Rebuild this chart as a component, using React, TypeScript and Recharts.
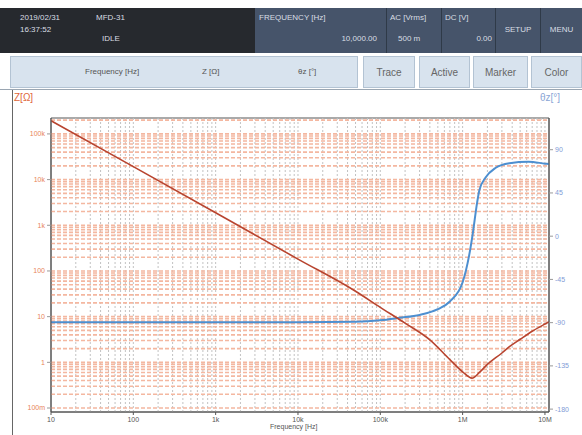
import { LineChart, Line, XAxis, YAxis, ReferenceLine, ReferenceArea } from 'recharts';

// impedance trace
const freqZ = [10, 100, 1000, 10000, 50000, 100000, 200000, 400000, 700000, 1e6, 1.3e6, 1.6e6, 2e6, 3e6, 3.7e6, 5e6, 7e6, 1e7, 1.12e7];
const impedance = [195000, 19200, 1880, 182, 36, 16, 7.2, 3.1, 1.15, 0.62, 0.45, 0.6, 0.9, 1.6, 2.2, 3.2, 4.8, 6.9, 7.7];

// phase trace
const freqPhase = [10, 100, 1000, 10000, 50000, 100000, 170000, 300000, 500000, 700000, 1e6, 1.2e6, 1.33e6, 1.5e6, 1.6e6, 1.9e6, 2.5e6, 3.7e6, 6.3e6, 1e7, 1.12e7];
const phase = [-89.6, -89.6, -89.6, -89.5, -89, -87.5, -85, -82, -76, -68, -48, -20, 3, 35, 48, 61, 71, 76, 77.5, 75.5, 75];

const freqTicks = [10, 100, 1000, 10000, 100000, 1e6, 1e7];
const zTicks = [0.1, 1, 10, 100, 1000, 10000, 100000];
const phaseTicks = [-180, -135, -90, -45, 0, 45, 90];
const steps = [1, 2, 3, 4, 5, 6, 7, 8, 9];

const X_DOMAIN: [number, number] = [10, 1.12e7];
const Z_DOMAIN: [number, number] = [0.0818, 223000];
const P_DOMAIN: [number, number] = [-183, 123];

const zData = freqZ.map((f, i) => ({ f, z: impedance[i] }));
const phaseData = freqPhase.map((f, i) => ({ f, p: phase[i] }));

const inRange = (v: number, d: [number, number]) => v > d[0] && v < d[1];
const minorX = freqTicks
  .flatMap((d) => steps.map((s) => s * d))
  .filter((v) => inRange(v, X_DOMAIN));
const minorZ = zTicks
  .flatMap((d) => steps.map((s) => s * d))
  .filter((v) => inRange(v, Z_DOMAIN));

const siLabel = (v: number) => {
  if (v >= 1e6) return `${v / 1e6}M`;
  if (v >= 1000) return `${v / 1000}k`;
  if (v < 1) return `${Math.round(v * 1000)}m`;
  return `${v}`;
};

const hdr: React.CSSProperties = {
  position: 'absolute',
  color: '#d9dee4',
  fontSize: 8,
  fontFamily: 'Liberation Sans, Arial, sans-serif',
  whiteSpace: 'nowrap',
};

const btn = (left: number, width: number, text: string) => (
  <div
    style={{
      position: 'absolute',
      left,
      top: 56,
      width,
      height: 32,
      background: '#d8e3ee',
      border: '1px solid #b3c3d3',
      boxSizing: 'border-box',
      display: 'flex',
      alignItems: 'center',
      justifyContent: 'center',
      fontSize: 10,
      color: '#666',
      fontFamily: 'Liberation Sans, Arial, sans-serif',
    }}
  >
    {text}
  </div>
);

export default function App() {
  return (
    <div
      style={{
        position: 'absolute',
        left: 0,
        top: 0,
        width: 582,
        height: 435,
        background: '#fff',
        overflow: 'hidden',
        fontFamily: 'Liberation Sans, Arial, sans-serif',
      }}
    >
      {/* status bar */}
      <div style={{ position: 'absolute', left: 0, top: 8, width: 255, height: 45, background: '#26292e' }} />
      <div style={{ position: 'absolute', left: 255, top: 8, width: 327, height: 45, background: '#46546a' }} />
      {[386, 441, 495, 540].map((x) => (
        <div key={x} style={{ position: 'absolute', left: x, top: 8, width: 1, height: 45, background: '#2f3a48' }} />
      ))}
      <div style={{ ...hdr, left: 20, top: 13 }}>2019/02/31</div>
      <div style={{ ...hdr, left: 20, top: 25 }}>16:37:52</div>
      <div style={{ ...hdr, left: 96, top: 13 }}>MFD-31</div>
      <div style={{ ...hdr, left: 102, top: 34 }}>IDLE</div>
      <div style={{ ...hdr, left: 259, top: 13 }}>FREQUENCY [Hz]</div>
      <div style={{ ...hdr, left: 325, top: 34, width: 52, textAlign: 'right' }}>10,000.00</div>
      <div style={{ ...hdr, left: 390, top: 13 }}>AC [Vrms]</div>
      <div style={{ ...hdr, left: 398, top: 34 }}>500 m</div>
      <div style={{ ...hdr, left: 445, top: 13 }}>DC [V]</div>
      <div style={{ ...hdr, left: 460, top: 34, width: 32, textAlign: 'right' }}>0.00</div>
      <div style={{ ...hdr, left: 496, top: 25, width: 44, textAlign: 'center' }}>SETUP</div>
      <div style={{ ...hdr, left: 541, top: 25, width: 41, textAlign: 'center' }}>MENU</div>

      {/* trace header row */}
      <div
        style={{
          position: 'absolute',
          left: 10,
          top: 56,
          width: 348,
          height: 32,
          background: '#d8e3ee',
          border: '1px solid #b3c3d3',
          boxSizing: 'border-box',
        }}
      />
      <div style={{ ...hdr, color: '#555', left: 85, top: 67 }}>Frequency [Hz]</div>
      <div style={{ ...hdr, color: '#555', left: 202, top: 67 }}>Z [Ω]</div>
      <div style={{ ...hdr, color: '#555', left: 298, top: 67 }}>θz [°]</div>
      {btn(363, 52, 'Trace')}
      {btn(419, 51, 'Active')}
      {btn(473, 55, 'Marker')}
      {btn(531, 51, 'Color')}

      {/* graph panel frame */}
      <div style={{ position: 'absolute', left: 0, top: 89, width: 582, height: 1, background: '#9aa6b2' }} />
      <div style={{ position: 'absolute', left: 12, top: 90, width: 1, height: 345, background: '#666' }} />
      <div style={{ position: 'absolute', left: 14, top: 92, fontSize: 10, color: '#e0663a' }}>Z[Ω]</div>
      <div style={{ position: 'absolute', left: 540, top: 92, fontSize: 10, color: '#8aa6d6' }}>θz[°]</div>

      <div style={{ position: 'absolute', left: 0, top: 90 }}>
        <LineChart width={582} height={345} margin={{ top: 28, right: 5, bottom: 9, left: 13 }}>
          <XAxis
            dataKey="f"
            type="number"
            scale="log"
            domain={X_DOMAIN}
            allowDataOverflow
            ticks={freqTicks}
            tickFormatter={siLabel}
            height={14}
            tickSize={3}
            axisLine={{ stroke: '#555' }}
            tickLine={{ stroke: '#555' }}
            tick={{ fontSize: 7, fill: '#555' }}
          />
          <YAxis
            yAxisId="z"
            type="number"
            scale="log"
            domain={Z_DOMAIN}
            allowDataOverflow
            ticks={zTicks}
            tickFormatter={siLabel}
            width={38}
            tickSize={4}
            axisLine={{ stroke: '#555' }}
            tickLine={{ stroke: '#999' }}
            tick={{ fontSize: 7, fill: '#e8845a' }}
          />
          <YAxis
            yAxisId="p"
            orientation="right"
            type="number"
            domain={P_DOMAIN}
            allowDataOverflow
            ticks={phaseTicks}
            width={28}
            tickSize={4}
            axisLine={{ stroke: '#555' }}
            tickLine={{ stroke: '#999' }}
            tick={{ fontSize: 7, fill: '#7f9bd6' }}
          />
          {minorX.map((v) => (
            <ReferenceLine
              key={`x${v}`}
              yAxisId="z"
              x={v}
              stroke="#c2c2c2"
              strokeWidth={1}
              strokeDasharray="2 2"
            />
          ))}
          {minorZ.map((v) => (
            <ReferenceLine
              key={`z${v}`}
              yAxisId="z"
              y={v}
              stroke="#f4b7a0"
              strokeWidth={1.6}
              strokeDasharray="4 2"
            />
          ))}
          <ReferenceArea
            yAxisId="z"
            x1={X_DOMAIN[0]}
            x2={X_DOMAIN[1]}
            y1={Z_DOMAIN[0]}
            y2={Z_DOMAIN[1]}
            fill="none"
            stroke="#555"
            ifOverflow="visible"
          />
          <Line
            yAxisId="p"
            data={phaseData}
            dataKey="p"
            type="monotone"
            stroke="#4d8fd0"
            strokeWidth={2}
            dot={false}
            isAnimationActive={false}
          />
          <Line
            yAxisId="z"
            data={zData}
            dataKey="z"
            type="monotone"
            stroke="#b8442f"
            strokeWidth={1.6}
            dot={false}
            isAnimationActive={false}
          />
        </LineChart>
      </div>
      <div style={{ position: 'absolute', left: 270, top: 423, fontSize: 7, color: '#555' }}>Frequency [Hz]</div>
    </div>
  );
}
